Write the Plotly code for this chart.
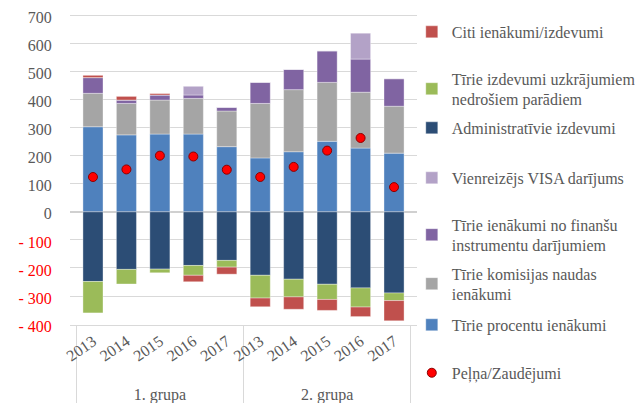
import plotly.graph_objects as go

years = ["2013", "2014", "2015", "2016", "2017"] * 2
groups = ["1. grupa"] * 5 + ["2. grupa"] * 5

procentu = [303, 274, 277, 277, 232, 192, 214, 251, 227, 209]
komisijas = [119, 112, 121, 127, 127, 194, 221, 210, 199, 167]
finansu = [56, 12, 18, 12, 13, 75, 72, 112, 118, 98]
visa = [0, 0, 0, 31, 0, 0, 0, 0, 92, 0]
admin = [-248, -205, -204, -191, -173, -226, -240, -258, -271, -289]
uzkraj = [-112, -52, -13, -35, -24, -81, -63, -54, -68, -27]
citi = [8, 13, 5, -23, -25, -31, -44, -39, -34, -72]
pelna = [124, 151, 200, 197, 150, 124, 160, 218, 263, 88]

tick_vals = [-400, -300, -200, -100, 0, 100, 200, 300, 400, 500, 600, 700]
tick_text = ['<span style="color:#FF0000">- 400</span>',
             '<span style="color:#FF0000">- 300</span>',
             '<span style="color:#FF0000">- 200</span>',
             '<span style="color:#FF0000">- 100</span>',
             "0", "100", "200", "300", "400", "500", "600", "700"]

x = [groups, years]

# (name, values, colour, legend id, legend centre in px of the page)
series = [
    ("Tīrie procentu ienākumi", procentu, "#4F81BD", "legend7", 325),
    ("Tīrie komisijas naudas<br>ienākumi", komisijas, "#A5A5A5", "legend6", 284),
    ("Tīrie ienākumi no finanšu<br>instrumentu darījumiem", finansu, "#8064A2", "legend5", 235),
    ("Vienreizējs VISA darījums", visa, "#B3A2C7", "legend4", 178),
    ("Administratīvie izdevumi", admin, "#2C4D75", "legend3", 128),
    ("Tīrie izdevumi uzkrājumiem<br>nedrošiem parādiem", uzkraj, "#9BBB59", "legend2", 89),
    ("Citi ienākumi/izdevumi", citi, "#C0504D", "legend", 32),
]

fig = go.Figure()
for name, vals, col, lg, _ in series:
    fig.add_trace(go.Bar(x=x, y=vals, name=name, legend=lg,
                         marker=dict(color=col, line=dict(color="rgba(255,255,255,0.6)", width=0.6)),
                         width=0.6))

fig.add_trace(go.Scatter(x=x, y=pelna, mode="markers", name="Peļņa/Zaudējumi",
                         legend="legend8",
                         marker=dict(color="#FF0000", size=9,
                                     line=dict(color="#8B0000", width=1))))

# page pixel positions (page has an 8px body offset)
y700_px, ym400_px = 15.3, 324.3
ppu = (ym400_px - y700_px) / 1100.0
rng = [-403, 708]
plot_top = y700_px - (rng[1] - 700) * ppu
plot_bot = ym400_px + (rng[0] + 400) * -ppu
H = plot_bot - plot_top
legend_pos = {lg: c for _, _, _, lg, c in series}
legend_pos["legend8"] = 373

W, HH = 635, 395
font = "Liberation Serif"
lay = dict(
    width=W, height=HH,
    margin=dict(l=62, r=226, t=plot_top - 8, b=HH - (plot_bot - 8), autoexpand=False),
    paper_bgcolor="white", plot_bgcolor="white",
    barmode="relative", bargap=0.4,
    font=dict(family=font, size=15, color="#595959"),
    showlegend=True,
    xaxis=dict(type="multicategory", tickangle=-35, showline=True, linecolor="#D9D9D9",
               linewidth=1, showdividers=True, dividercolor="#D9D9D9", dividerwidth=1,
               tickfont=dict(family=font, size=16, color="#595959"), ticks=""),
    yaxis=dict(range=rng, tickvals=tick_vals, ticktext=tick_text,
               showgrid=True, gridcolor="#D9D9D9", gridwidth=1,
               zeroline=True, zerolinecolor="#D0D0D0", zerolinewidth=2,
               ticklabeloverflow="allow", ticklabelshift=2,
               tickfont=dict(family=font, size=16, color="#595959"), ticks="outside", ticklen=14,
               tickcolor="rgba(0,0,0,0)"),
)
for lg, c in legend_pos.items():
    lay[lg] = dict(x=0.985, xanchor="left", y=(plot_bot - c) / H, yanchor="middle",
                   bgcolor="rgba(0,0,0,0)", font=dict(family=font, size=16, color="#595959"),
                   itemwidth=30, tracegroupgap=0)
fig.update_layout(**lay)
fig.write_html("out.html")
